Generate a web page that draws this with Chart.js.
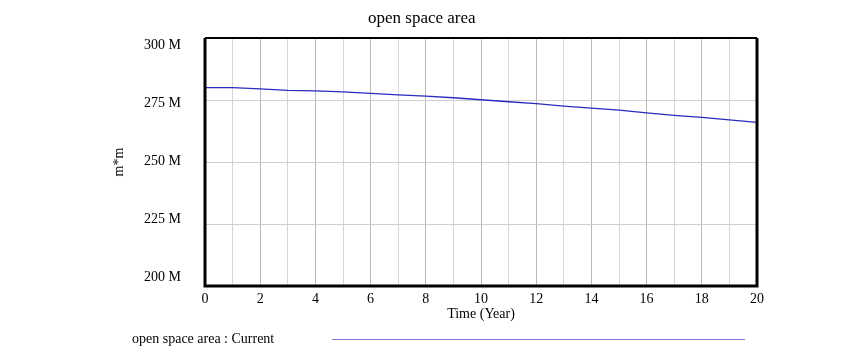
<!DOCTYPE html>
<html>
<head>
<meta charset="utf-8">
<script src="https://cdn.jsdelivr.net/npm/chart.js@4.4.1/dist/chart.umd.min.js"></script>
<style>
html,body{margin:0;padding:0;background:#fff;}
#wrap{width:860px;height:360px;position:relative;}
</style>
</head>
<body>
<div id="wrap"><canvas id="c" width="860" height="360"></canvas></div>
<script>
// ---- data ----
const years = [0,1,2,3,4,5,6,7,8,9,10,11,12,13,14,15,16,17,18,19,20];
const openSpaceAreaM = [280.0,280.0,279.5,278.9,278.7,278.3,277.7,277.1,276.6,275.9,275.1,274.3,273.5,272.5,271.7,270.9,269.8,268.8,268.0,267.0,266.0];
const yTickValues = [300,275,250,225,200];
const yTickLabels = ['300 M','275 M','250 M','225 M','200 M'];
const xTickLabels = ['0','2','4','6','8','10','12','14','16','18','20'];
const chartTitle = 'open space area';
const yAxisTitle = 'm*m';
const xAxisTitle = 'Time (Year)';
const legendLabel = 'open space area : Current';

const FONT = '"Liberation Serif", "Times New Roman", serif';
const LINE_COLOR = '#2b2bc0';
const LEGEND_LINE_COLOR = '#7b7bd6';

const decor = {
  id: 'decor',
  afterDraw(chart) {
    const ctx = chart.ctx;
    const a = chart.chartArea;
    const ys = chart.scales.y;
    ctx.save();
    // frame
    ctx.strokeStyle = '#000';
    ctx.lineWidth = 2;
    ctx.beginPath(); ctx.moveTo(a.left, a.top); ctx.lineTo(a.right, a.top); ctx.stroke();
    ctx.lineWidth = 3;
    ctx.beginPath();
    ctx.moveTo(a.left, a.top); ctx.lineTo(a.left, a.bottom); ctx.lineTo(a.right, a.bottom); ctx.lineTo(a.right, a.top);
    ctx.stroke();
    // y tick labels
    ctx.fillStyle = '#000';
    ctx.font = '14px ' + FONT;
    ctx.textAlign = 'right';
    ctx.textBaseline = 'middle';
    yTickValues.forEach((v, i) => {
      const gy = ys.getPixelForValue(v);
      const ly = 45 + (gy - a.top) * 232 / (a.bottom - a.top);
      ctx.fillText(yTickLabels[i], 181, ly);
    });
    // y axis title
    ctx.save();
    ctx.translate(119, 162);
    ctx.rotate(-Math.PI / 2);
    ctx.textAlign = 'center';
    ctx.fillText(yAxisTitle, 0, 0);
    ctx.restore();
    // x axis title
    ctx.textAlign = 'center';
    ctx.fillText(xAxisTitle, (a.left + a.right) / 2, 314);
    // chart title
    ctx.font = '17px ' + FONT;
    ctx.textAlign = 'left';
    ctx.fillText(chartTitle, 368, 19);
    // legend
    ctx.font = '14px ' + FONT;
    ctx.fillText(legendLabel, 132, 339);
    ctx.strokeStyle = LEGEND_LINE_COLOR;
    ctx.lineWidth = 1;
    ctx.beginPath(); ctx.moveTo(332, 339.5); ctx.lineTo(745, 339.5); ctx.stroke();
    ctx.restore();
  }
};

new Chart(document.getElementById('c'), {
  type: 'line',
  data: {
    datasets: [{
      label: legendLabel,
      data: years.map((t, i) => ({x: t, y: openSpaceAreaM[i]})),
      borderColor: LINE_COLOR,
      borderWidth: 1.3,
      pointRadius: 0,
      tension: 0,
      fill: false
    }]
  },
  options: {
    responsive: false,
    animation: false,
    events: [],
    layout: { padding: { left: 0, top: 38, right: 103, bottom: 0 } },
    plugins: { legend: { display: false }, title: { display: false }, tooltip: { enabled: false } },
    scales: {
      x: {
        type: 'linear', min: 0, max: 20,
        afterFit(s) { s.height = 74; },
        border: { display: false },
        grid: {
          drawTicks: false,
          color: (c) => (c.tick && c.tick.value % 2 === 0) ? '#b8b8b8' : '#d6d6d6',
          lineWidth: 1
        },
        ticks: {
          stepSize: 1, autoSkip: false, maxRotation: 0, padding: 5,
          color: '#000', font: { family: FONT, size: 14 },
          callback: (v) => (v % 2 === 0) ? xTickLabels[v / 2] : ''
        }
      },
      y: {
        type: 'linear', min: 200, max: 300,
        afterFit(s) { s.width = 205; },
        border: { display: false },
        grid: { drawTicks: false, color: '#cfcfcf', lineWidth: 1 },
        ticks: { stepSize: 25, display: false }
      }
    }
  },
  plugins: [decor]
});
</script>
</body>
</html>
